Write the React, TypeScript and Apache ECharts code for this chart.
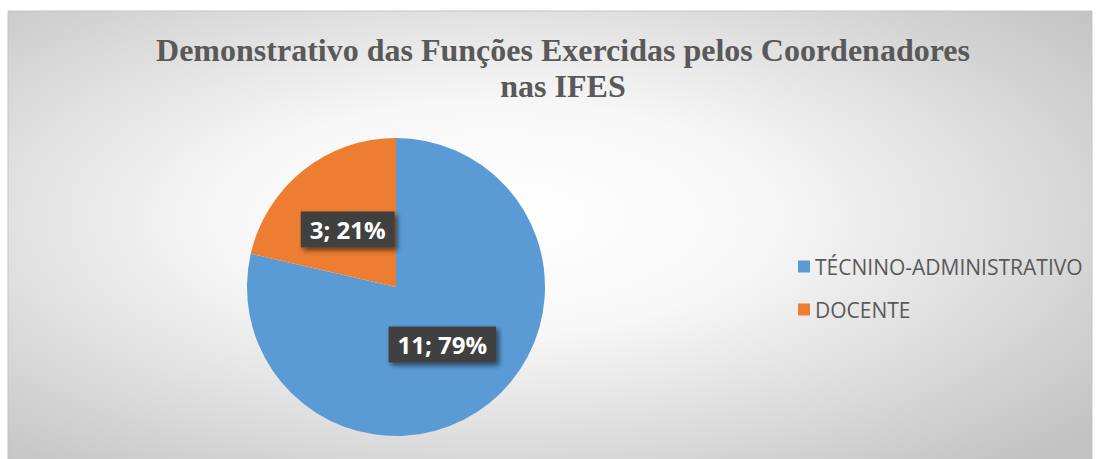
import React, { useEffect, useRef } from "react";
import * as echarts from "echarts";

const categories = ["TÉCNINO-ADMINISTRATIVO", "DOCENTE"];
const values = [11, 3];
const colors = ["#5b9bd5", "#ed7d31"];
const titleText = "Demonstrativo das Funções Exercidas pelos Coordenadores\nnas IFES";

export default function App() {
  const ref = useRef<HTMLDivElement>(null);
  useEffect(() => {
    if (!ref.current) return;
    const chart = echarts.init(ref.current, null, { renderer: "svg" });
    const total = values.reduce((a, b) => a + b, 0);
    chart.setOption({
      animation: false,
      graphic: [
        {
          type: "rect",
          z: -10,
          silent: true,
          shape: { x: 8, y: 11, width: 1084, height: 460 },
          style: {
            fill: {
              type: "radial",
              x: 0.45,
              y: 0.45,
              r: 0.72,
              colorStops: [
                { offset: 0, color: "#ffffff" },
                { offset: 0.35, color: "#f7f7f7" },
                { offset: 1, color: "#c2c2c2" },
              ],
            },
            stroke: "#c4c4c4",
            lineWidth: 1,
          },
        },
      ],
      title: {
        text: titleText,
        left: 558,
        top: 27,
        textAlign: "center",
        textStyle: {
          fontFamily: "Liberation Serif",
          fontWeight: "bold",
          fontSize: 32,
          color: "#595959",
          lineHeight: 36,
        },
      },
      legend: {
        orient: "vertical",
        left: 793,
        top: 251,
        itemWidth: 12,
        itemHeight: 12,
        itemGap: 22,
        icon: "rect",
        data: categories,
        textStyle: {
          fontFamily: "Open Sans",
          fontSize: 21,
          color: "#595959",
          padding: [0, 0, 0, 0],
        },
      },
      series: [
        {
          type: "pie",
          center: [396, 287],
          radius: 149,
          startAngle: 90,
          clockwise: true,
          color: colors,
          data: categories.map((name, i) => ({
            name,
            value: values[i],
            label: i === 1 ? { offset: [0, 3] } : { offset: [-2, -3] },
          })),
          label: {
            show: true,
            position: "inside",
            formatter: (p: any) => `${p.value}; ${Math.round((p.value / total) * 100)}%`,
            fontFamily: "Open Sans",
            fontWeight: "bold",
            fontSize: 24,
            lineHeight: 26,
            color: "#ffffff",
            backgroundColor: "#404040",
            padding: [5, 9, 5, 9],
            shadowColor: "rgba(0,0,0,0.55)",
            shadowBlur: 5,
            shadowOffsetX: 3,
            shadowOffsetY: 3,
          },
          labelLine: { show: false },
          emphasis: { disabled: true },
        },
      ],
    });
    return () => chart.dispose();
  }, []);
  return (
    <div
      ref={ref}
      style={{ position: "absolute", left: 0, top: 0, width: 1098, height: 459 }}
    />
  );
}
